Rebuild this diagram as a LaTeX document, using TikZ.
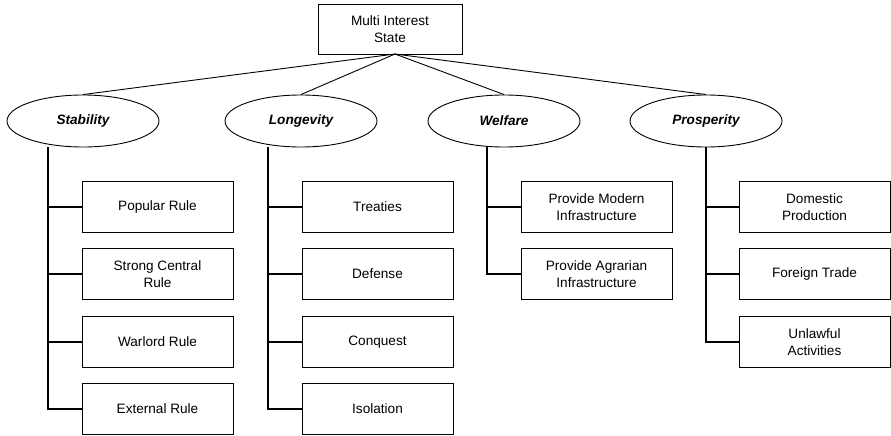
\documentclass[tikz,border=0pt]{standalone}
\usepackage{fontspec}
\setmainfont{Liberation Sans}
\usetikzlibrary{shapes.geometric}
\begin{document}
\begin{tikzpicture}[x=1pt,y=-1pt,
  every node/.style={font=\fontsize{13.6}{16.5}\selectfont},
  leafbox/.style={draw, line width=0.9pt, minimum width=151pt, minimum height=51pt,
    inner sep=0pt, align=center},
  rootbox/.style={draw, line width=0.9pt, minimum width=144pt, minimum height=50pt,
    inner sep=0pt, align=center},
  goal/.style={ellipse, draw, line width=0.9pt, minimum width=152pt, minimum height=52pt,
    inner sep=0pt, font=\fontsize{13.6}{16.5}\selectfont\bfseries\itshape},
  spoke/.style={line width=0.9pt},
  trunk/.style={line width=2pt}
]
\useasboundingbox (0,0) rectangle (891,436);

% root
\node[rootbox] (root) at (390,29) {Multi Interest\\State};
\coordinate (hub) at (395,54);

% goals
\node[goal] (stab) at (83,121)  {Stability};
\node[goal] (long) at (301,121) {Longevity};
\node[goal] (welf) at (504,121) {Welfare};
\node[goal] (pros) at (706,121) {Prosperity};

\foreach \g in {stab,long,welf,pros}
  \draw[spoke] (hub) -- (\g.north);

% trunk tops
\coordinate (stabT) at (48,147);
\coordinate (longT) at (268,147);
\coordinate (welfT) at (487,147);
\coordinate (prosT) at (706,147);

% Stability column
\node[leafbox] (s1) at (157.5,207) {Popular Rule};
\node[leafbox] (s2) at (157.5,274) {Strong Central\\Rule};
\node[leafbox] (s3) at (157.5,342) {Warlord Rule};
\node[leafbox] (s4) at (157.5,409) {External Rule};

% Longevity column
\node[leafbox] (l1) at (377.5,207) {Treaties};
\node[leafbox] (l2) at (377.5,274) {Defense};
\node[leafbox] (l3) at (377.5,342) {Conquest};
\node[leafbox] (l4) at (377.5,409) {Isolation};

% Welfare column
\node[leafbox] (w1) at (596.5,207) {Provide Modern\\Infrastructure};
\node[leafbox] (w2) at (596.5,274) {Provide Agrarian\\Infrastructure};

% Prosperity column
\node[leafbox] (p1) at (814.5,207) {Domestic\\Production};
\node[leafbox] (p2) at (814.5,274) {Foreign Trade};
\node[leafbox] (p3) at (814.5,342) {Unlawful\\Activities};

% trunks and branches
\draw[trunk] (stabT) |- (s4.west);
\foreach \b in {s1,s2,s3} \draw[trunk] (\b.west) -- (\b.west -| stabT);
\draw[trunk] (longT) |- (l4.west);
\foreach \b in {l1,l2,l3} \draw[trunk] (\b.west) -- (\b.west -| longT);
\draw[trunk] (welfT) |- (w2.west);
\draw[trunk] (w1.west) -- (w1.west -| welfT);
\draw[trunk] (prosT) |- (p3.west);
\foreach \b in {p1,p2} \draw[trunk] (\b.west) -- (\b.west -| prosT);
\end{tikzpicture}
\end{document}
